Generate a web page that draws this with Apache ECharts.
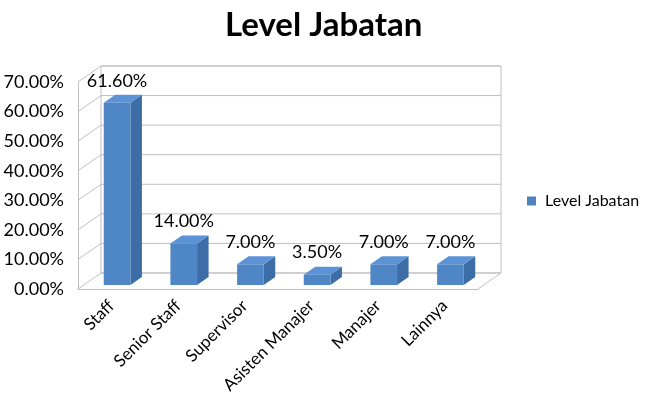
<!DOCTYPE html>
<html>
<head>
<meta charset="utf-8">
<script src="https://cdn.jsdelivr.net/npm/echarts@6/dist/echarts.min.js"></script>
<style>
  html, body { margin: 0; padding: 0; background: #fff; }
  #chart { width: 662px; height: 412px; }
</style>
</head>
<body>
<div id="chart"></div>
<script>
// data
const categories = ["Staff", "Senior Staff", "Supervisor", "Asisten Manajer", "Manajer", "Lainnya"];
const values = [61.6, 14.0, 7.0, 3.5, 7.0, 7.0];
const yTicks = [0, 10, 20, 30, 40, 50, 60, 70];

// fake 3d depth (back wall is up-right of the front plane)
const DX = 23, DY = -16;
const FONT = "Lato, 'Open Sans', sans-serif";

const chart = echarts.init(document.getElementById("chart"));

function renderWalls(params, api) {
  const cs = params.coordSys;
  const x0 = cs.x, x1 = cs.x + cs.width;
  const line = "#BFBFBF";
  const children = [];
  const yBottom = api.coord([0, yTicks[0]])[1];
  const yTop = api.coord([0, yTicks[yTicks.length - 1]])[1];
  // back wall
  children.push({
    type: "rect",
    shape: { x: x0 + DX, y: yTop + DY, width: cs.width, height: yBottom - yTop },
    style: { fill: "#fff", stroke: line, lineWidth: 1 }
  });
  yTicks.forEach(v => {
    const y = api.coord([0, v])[1];
    // gridline on back wall
    children.push({
      type: "line",
      shape: { x1: x0 + DX, y1: y + DY, x2: x1 + DX, y2: y + DY },
      style: { stroke: line, lineWidth: 1 }
    });
    // diagonal on left side wall
    children.push({
      type: "line",
      shape: { x1: x0, y1: y, x2: x0 + DX, y2: y + DY },
      style: { stroke: line, lineWidth: 1 }
    });
  });
  // floor right edge
  children.push({
    type: "line",
    shape: { x1: x1, y1: yBottom, x2: x1 + DX, y2: yBottom + DY },
    style: { stroke: line, lineWidth: 1 }
  });
  return { type: "group", children: children };
}

function renderBar(params, api) {
  const idx = api.value(0);
  const val = api.value(1);
  const top = api.coord([idx, val]);
  const base = api.coord([idx, 0]);
  const band = api.size([1, 0])[0];
  const w = band * 0.4;
  const fx = top[0] - w / 2 + DX * 0.25;
  const fyTop = top[1] + DY * 0.25;
  const fyBot = base[1] + DY * 0.25;
  const ddx = DX * 0.5, ddy = DY * 0.5;
  return {
    type: "group",
    children: [
      {
        type: "polygon",
        shape: { points: [[fx + w, fyTop], [fx + w + ddx, fyTop + ddy], [fx + w + ddx, fyBot + ddy], [fx + w, fyBot]] },
        style: { fill: "#3C6DA6" }
      },
      {
        type: "polygon",
        shape: { points: [[fx, fyTop], [fx + ddx, fyTop + ddy], [fx + w + ddx, fyTop + ddy], [fx + w, fyTop]] },
        style: { fill: "#5B93D6" }
      },
      {
        type: "rect",
        shape: { x: fx, y: fyTop, width: w, height: fyBot - fyTop },
        style: { fill: "#4F86C6" }
      },
      {
        type: "text",
        style: {
          text: val.toFixed(2) + "%",
          x: fx + w / 2,
          y: fyTop + ddy - 14,
          align: "center",
          verticalAlign: "middle",
          font: "18px " + FONT,
          fill: "#000"
        }
      }
    ]
  };
}

chart.setOption({
  animation: false,
  title: {
    text: "Level Jabatan",
    left: 220,
    top: 4,
    textStyle: { fontFamily: FONT, fontSize: 33, fontWeight: "bold", color: "#000" }
  },
  legend: {
    data: ["Level Jabatan"],
    left: 522,
    top: 188,
    icon: "rect",
    itemWidth: 9,
    itemHeight: 9,
    textStyle: { fontFamily: FONT, fontSize: 16, color: "#000", padding: [0, 0, 0, 4] }
  },
  grid: { left: 78, right: 184, top: 82, bottom: 123 },
  xAxis: {
    type: "category",
    data: categories,
    axisTick: { show: false },
    axisLine: { lineStyle: { color: "#BFBFBF" } },
    axisLabel: { rotate: 45, fontSize: 17, fontFamily: FONT, color: "#000", margin: 14, interval: 0 }
  },
  yAxis: {
    type: "value",
    min: 0,
    max: 70,
    interval: 10,
    axisLine: { show: true, lineStyle: { color: "#BFBFBF" } },
    axisTick: { show: false },
    splitLine: { show: false },
    axisLabel: {
      fontSize: 18,
      fontFamily: FONT,
      color: "#000",
      margin: 14,
      formatter: v => v.toFixed(2) + "%"
    }
  },
  series: [
    {
      name: "walls",
      type: "custom",
      silent: true,
      z: 1,
      data: [[0, 0]],
      renderItem: renderWalls
    },
    {
      name: "Level Jabatan",
      type: "custom",
      z: 2,
      itemStyle: { color: "#4F81BD" },
      data: values.map((v, i) => [i, v]),
      encode: { x: 0, y: 1 },
      renderItem: renderBar
    }
  ]
});
</script>
</body>
</html>
